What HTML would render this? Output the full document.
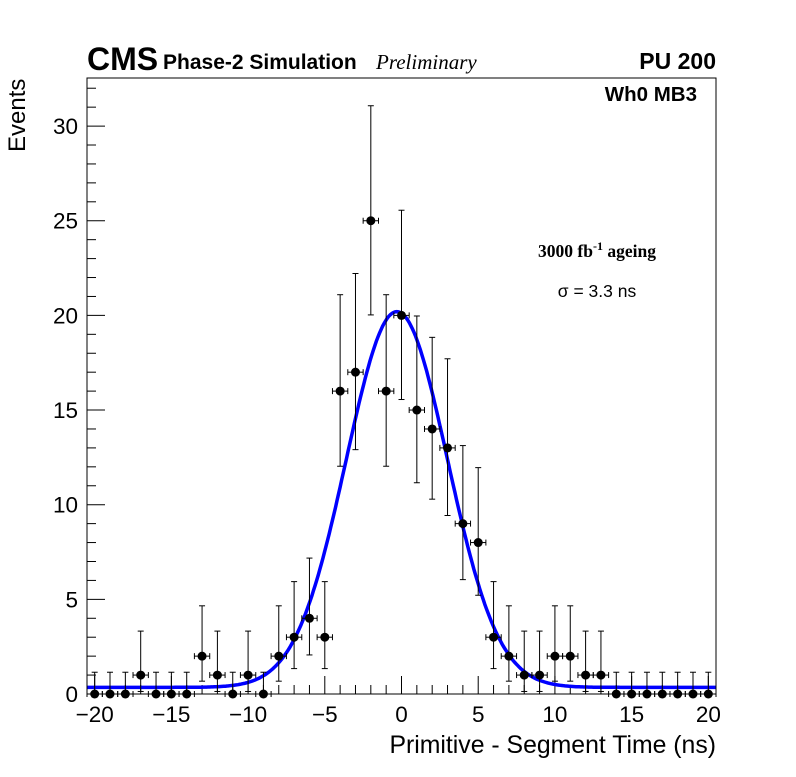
<!DOCTYPE html>
<html><head><meta charset="utf-8"><style>
body{margin:0;background:#fff;}
svg text{font-family:"Liberation Sans",sans-serif;}
</style></head><body>
<svg id="chart" width="796" height="772" xmlns="http://www.w3.org/2000/svg">
<rect x="0" y="0" width="796" height="772" fill="#fff"/>
<g id="ticks"></g>
<g id="fit"></g>
<g id="points"></g>
<rect x="87" y="78" width="629" height="616" fill="none" stroke="#000" stroke-width="1"/>
<text x="87" y="70" font-size="32" font-weight="bold">CMS</text>
<text x="163" y="69" font-size="21" font-weight="bold">Phase-2 Simulation</text>
<text x="376" y="69" font-size="21" font-style="italic" style="font-family:'Liberation Serif',serif">Preliminary</text>
<text x="716" y="69" font-size="23" font-weight="bold" text-anchor="end">PU 200</text>
<text x="697" y="101" font-size="20.5" font-weight="bold" text-anchor="end">Wh0 MB3</text>
<text x="597" y="257" font-size="17.5" font-weight="bold" text-anchor="middle" style="font-family:'Liberation Serif',serif">3000 fb<tspan dy="-7" font-size="12">-1</tspan><tspan dy="7"> ageing</tspan></text>
<text x="597" y="297" font-size="17.5" text-anchor="middle">σ = 3.3 ns</text>
<text transform="translate(25,152) rotate(-90)" font-size="24">Events</text>
<text x="716" y="753" font-size="24.8" text-anchor="end">Primitive - Segment Time (ns)</text>
</svg>
<script>
const xValues=[-20,-19,-18,-17,-16,-15,-14,-13,-12,-11,-10,-9,-8,-7,-6,-5,-4,-3,-2,-1,0,1,2,3,4,5,6,7,8,9,10,11,12,13,14,15,16,17,18,19,20];
const counts=[0,0,0,1,0,0,0,2,1,0,1,0,2,3,4,3,16,17,25,16,20,15,14,13,9,8,3,2,1,1,2,2,1,1,0,0,0,0,0,0,0];
const xTickLabels=[-20,-15,-10,-5,0,5,10,15,20];
const yTickLabels=[0,5,10,15,20,25,30];
const fitMean=-0.3, fitSigma=3.3, fitAmp=19.85, fitConst=0.35;
const NS="http://www.w3.org/2000/svg";
const X0=87,X1=716,Y0=694,Y1=78,XMIN=-20.5,XMAX=20.5,YMAX=32.54;
const sx=v=>X0+(v-XMIN)/(XMAX-XMIN)*(X1-X0);
const sy=v=>Y0-v/YMAX*(Y0-Y1);
function mk(tag,attrs,parent){const e=document.createElementNS(NS,tag);for(const k in attrs)e.setAttribute(k,attrs[k]);parent.appendChild(e);return e;}
const T=document.getElementById('ticks');
for(let v=-20;v<=20;v++){const maj=v%5===0;const l=mk('line',{x1:sx(v),x2:sx(v),y1:Y0,y2:Y0-(maj?18:9),stroke:'#000','stroke-width':1},T);

}
for(let v=0;v<=32;v++){const maj=v%5===0;const l=mk('line',{x1:X0,x2:X0+(maj?18:9),y1:sy(v),y2:sy(v),stroke:'#000','stroke-width':1},T);

}
xTickLabels.forEach(v=>{const t=mk('text',{x:sx(v),y:722,'font-size':22.5,'text-anchor':'middle'},T);t.textContent=(v<0?'\u2212'+(-v):v);

});
yTickLabels.forEach(v=>{const t=mk('text',{x:78,y:sy(v)+8,'font-size':22.5,'text-anchor':'end'},T);t.textContent=v;

});
let d='';for(let i=0;i<=400;i++){const v=XMIN+i*(XMAX-XMIN)/400;const f=fitConst+fitAmp*Math.exp(-0.5*((v-fitMean)/fitSigma)**2);d+=(i?'L':'M')+sx(v).toFixed(1)+','+sy(f).toFixed(1);}
const fp=mk('path',{d:d,fill:'none',stroke:'#0000ff','stroke-width':3.5},document.getElementById('fit'));


const P=document.getElementById('points');
xValues.forEach((x,i)=>{const n=counts[i];
const up=n===0?1.15:n+Math.sqrt(n+0.75)+1;const lo=n===0?0:Math.max(0,n-Math.sqrt(n-0.25));
const g=mk('g',{},P);


const cx=sx(x),cy=sy(n),xl=sx(x-0.5),xr=sx(x+0.5);
mk('line',{x1:cx,x2:cx,y1:sy(up),y2:sy(lo),stroke:'#000'},g);
mk('line',{x1:cx-3,x2:cx+3,y1:sy(up),y2:sy(up),stroke:'#000'},g);
if(n>0)mk('line',{x1:cx-3,x2:cx+3,y1:sy(lo),y2:sy(lo),stroke:'#000'},g);
mk('line',{x1:xl,x2:xr,y1:cy,y2:cy,stroke:'#000'},g);
mk('line',{x1:xl,x2:xl,y1:cy-3,y2:cy+3,stroke:'#000'},g);
mk('line',{x1:xr,x2:xr,y1:cy-3,y2:cy+3,stroke:'#000'},g);
mk('circle',{cx:cx,cy:cy,r:4.5,fill:'#000'},g);
});
</script>
</body></html>
